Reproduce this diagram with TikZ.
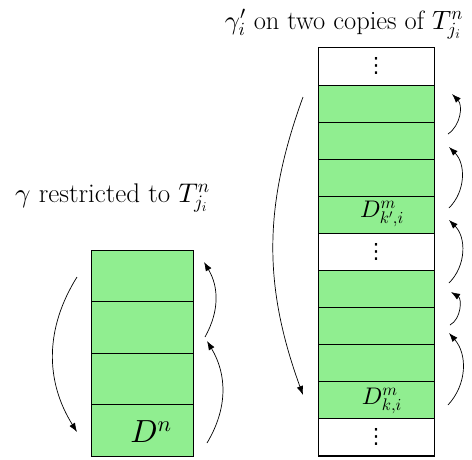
\documentclass[tikz,border=0pt]{standalone}
\usepackage{fontspec}
\newfontfamily\symfont{DejaVu Sans}
\DeclareFontShape{OML}{cmm}{m}{it}{<->cmmi10}{}
\DeclareFontShape{OMS}{cmsy}{m}{n}{<->cmsy10}{}
\DeclareFontShape{OT1}{cmr}{m}{n}{<->cmr10}{}
\usetikzlibrary{arrows.meta}
\definecolor{cellgreen}{HTML}{90EE90}
\begin{document}
\begin{tikzpicture}[x=1pt,y=-1pt,
  lcell/.style={draw=black, line width=0.7pt, fill=cellgreen, minimum width=102pt, minimum height=51.5pt, inner sep=0pt, outer sep=0pt},
  rcell/.style={draw=black, line width=0.7pt, fill=#1, minimum width=116pt, minimum height=37.1pt, inner sep=0pt, outer sep=0pt},
  rcell/.default=cellgreen,
  outline/.style={draw=black, line width=1pt},
  arr/.style={-{Latex[length=9pt,width=6.5pt]}, line width=0.7pt},
  title/.style={font=\fontsize{27}{33}\selectfont, anchor=base, inner sep=0pt},
  dlabel/.style={font=\fontsize{24}{29}\selectfont, inner sep=0pt},
  dots/.style={font=\symfont\fontsize{21}{25}\selectfont, inner sep=0pt}]
\useasboundingbox (0,0) rectangle (472,459);

% titles
\node[title] (t1) at (112.5,202) {$\gamma$ restricted to $T^n_{j_i}$};
\node[title, font=\fontsize{26.5}{32}\selectfont] (t2) at (344,29) {$\gamma'_i$ on two copies of $T^n_{j_i}$};

% left stack
\node[lcell] (L1) at (142,276.0) {};
\node[lcell] (L2) at (142,327.5) {};
\node[lcell] (L3) at (142,379.0) {};
\node[lcell] (L4) at (142,430.5) {};
\draw[outline] (L1.north west) rectangle (L4.south east);
\node[font=\fontsize{32}{38}\selectfont, inner sep=0pt] (Dn) at (151,432) {$D^n$};

% right stack
\node[rcell=white] (R0) at (376,66.3) {};
\node[rcell] (R1) at (376,103.4) {};
\node[rcell] (R2) at (376,140.5) {};
\node[rcell] (R3) at (376,177.6) {};
\node[rcell] (R4) at (376,214.7) {};
\node[rcell=white] (R5) at (376,251.8) {};
\node[rcell] (R6) at (376,288.9) {};
\node[rcell] (R7) at (376,326.0) {};
\node[rcell] (R8) at (376,363.1) {};
\node[rcell] (R9) at (376,400.2) {};
\node[rcell=white] (R10) at (376,437.3) {};
\draw[outline] (R0.north west) rectangle (R10.south east);
\node[dots] (v0) at (R0) {⋮};
\node[dots] (v5) at (R5) {⋮};
\node[dots] (v10) at (R10) {⋮};
\node[dlabel] (Dkp) at (382,214) {$D^m_{k',i}$};
\node[dlabel] (Dk) at (382,401) {$D^m_{k,i}$};

% arrow end points
\coordinate (a1s) at (77,277);  \coordinate (a1e) at (77,432);
\coordinate (a2s) at (205,337); \coordinate (a2e) at (204,262);
\coordinate (a3s) at (207,443); \coordinate (a3e) at (207,341);
\coordinate (b1s) at (303,97);  \coordinate (b1e) at (303,395);
\coordinate (c1s) at (448,134); \coordinate (c1e) at (452,94);
\coordinate (c2s) at (449,208); \coordinate (c2e) at (449,147);
\coordinate (c3s) at (449,283); \coordinate (c3e) at (449,220);
\coordinate (c4s) at (450,325); \coordinate (c4e) at (451,292);
\coordinate (c5s) at (448,405); \coordinate (c5e) at (449,333);

\draw[arr] (a1s) to[bend right=32] (a1e);
\draw[arr] (a2s) to[bend right=30] (a2e);
\draw[arr] (a3s) to[bend right=31] (a3e);
\draw[arr] (b1s) to[bend right=20] (b1e);
\draw[arr] (c1s) to[bend right=50] (c1e);
\draw[arr] (c2s) to[bend right=45] (c2e);
\draw[arr] (c3s) to[bend right=45] (c3e);
\draw[arr] (c4s) to[bend right=60] (c4e);
\draw[arr] (c5s) to[bend right=42] (c5e);
\end{tikzpicture}
\end{document}
